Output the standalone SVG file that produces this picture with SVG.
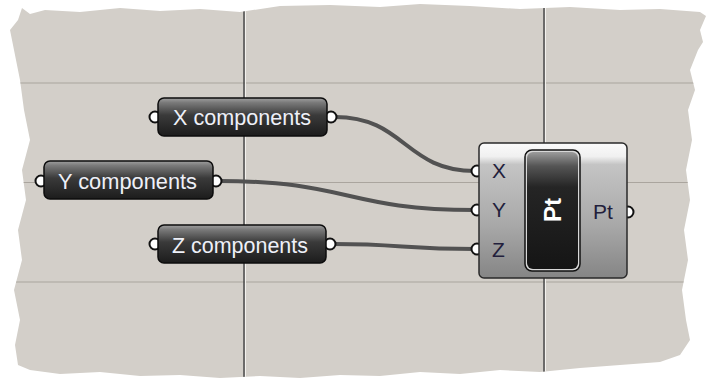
<svg xmlns="http://www.w3.org/2000/svg" width="710" height="385" viewBox="0 0 710 385">
<style>
.lbl{font-family:"Liberation Sans",Arial,sans-serif;font-size:22.5px;fill:#eef0f8}
.plbl{font-family:"Liberation Sans",Arial,sans-serif;font-size:21px;fill:#231f3c}
.wire{fill:none;stroke:#525252;stroke-width:4;stroke-linecap:round}
.grip{fill:#ffffff;stroke:#111;stroke-width:2}
.cap{fill:url(#capg);stroke:#0c0c0c;stroke-width:1.5}
.hgrid{stroke:#aaa59e;stroke-width:1.2}
.vgrid{stroke:#4a4a4a;stroke-width:1.5}
.vhl{stroke:#f4f2ee;stroke-width:1}
</style>
<defs>
<linearGradient id="capg" x1="0" y1="0" x2="0" y2="1">
<stop offset="0" stop-color="#a0a0a0"/>
<stop offset="0.12" stop-color="#7a7a7a"/>
<stop offset="0.45" stop-color="#3a3a3a"/>
<stop offset="1" stop-color="#1c1c1c"/>
</linearGradient>
<linearGradient id="boxg" x1="0" y1="0" x2="0" y2="1">
<stop offset="0" stop-color="#fbfbfb"/>
<stop offset="0.1" stop-color="#f0f0f0"/>
<stop offset="0.16" stop-color="#c4c4c4"/>
<stop offset="0.6" stop-color="#a9a9a9"/>
<stop offset="1" stop-color="#858585"/>
</linearGradient>
<linearGradient id="inng" x1="0" y1="0" x2="0" y2="1">
<stop offset="0" stop-color="#9c9c9c"/>
<stop offset="0.12" stop-color="#555"/>
<stop offset="0.3" stop-color="#252525"/>
<stop offset="1" stop-color="#151515"/>
</linearGradient>
<clipPath id="canvasclip">
<path id="cpath" d="M18,20 L22,8 L30,14 L45,10 L80,12 L120,8 L160,11 L200,9 L240,12 L280,6 L330,5 L380,7 L420,4 L470,6 L520,9 L570,7 L620,10 L660,9 L700,12 L706,16 L700,30 L703,42 L698,50 L690,70 L695,90 L688,110 L692,140 L686,170 L690,200 L684,230 L688,260 L682,290 L686,320 L690,340 L680,355 L660,362 L620,365 L580,368 L540,372 L500,370 L460,374 L420,372 L380,376 L340,375 L300,378 L260,376 L220,378 L180,375 L140,376 L100,372 L60,374 L30,370 L18,365 L15,345 L20,320 L14,290 L22,260 L18,230 L26,200 L22,170 L30,140 L24,110 L20,80 L14,50 L10,30 Z"/>
</clipPath>
</defs>
<rect width="710" height="385" fill="#ffffff"/>
<g id="canvas">
<use href="#cpath" fill="#d3cfc9"/>
<g clip-path="url(#canvasclip)">
<line class="hgrid" x1="0" y1="83" x2="710" y2="83"/>
<line class="hgrid" x1="0" y1="182.5" x2="710" y2="182.5"/>
<line class="hgrid" x1="0" y1="282" x2="710" y2="282"/>
<line class="vgrid" x1="244" y1="0" x2="244" y2="385"/>
<line class="vhl" x1="245.5" y1="0" x2="245.5" y2="385"/>
<line class="vgrid" x1="544" y1="0" x2="544" y2="385"/>
<line class="vhl" x1="545.5" y1="0" x2="545.5" y2="385"/>
</g>
</g>
<g id="connectors">
<path class="wire" d="M335,117 C405,117 405,171 475,171"/>
<path class="wire" d="M219,181 C350,181 345,210 475,210"/>
<path class="wire" d="M334,244 C400,244 405,249 475,249"/>
</g>
<g id="node-x">
<circle class="grip" cx="155" cy="117" r="5.5"/>
<circle class="grip" cx="331" cy="117" r="5.5"/>
<rect class="cap" x="158" y="98" width="169" height="38" rx="6"/>
<text class="lbl" x="173" y="125" textLength="138" lengthAdjust="spacingAndGlyphs">X components</text>
</g>
<g id="node-y">
<circle class="grip" cx="41" cy="181" r="5.5"/>
<circle class="grip" cx="216" cy="181" r="5.5"/>
<rect class="cap" x="44" y="161" width="169" height="38" rx="6"/>
<text class="lbl" x="58" y="188.5" textLength="139" lengthAdjust="spacingAndGlyphs">Y components</text>
</g>
<g id="node-z">
<circle class="grip" cx="155" cy="244" r="5.5"/>
<circle class="grip" cx="330" cy="244" r="5.5"/>
<rect class="cap" x="158" y="225" width="168" height="38" rx="6"/>
<text class="lbl" x="172" y="252.5" textLength="136" lengthAdjust="spacingAndGlyphs">Z components</text>
</g>
<g id="node-pt">
<circle class="grip" cx="477" cy="171" r="5.5"/>
<circle class="grip" cx="477" cy="210" r="5.5"/>
<circle class="grip" cx="477" cy="249" r="5.5"/>
<circle class="grip" cx="628" cy="212" r="5.5"/>
<rect x="479" y="143" width="148" height="135" rx="5" fill="url(#boxg)" stroke="#2a2a2a" stroke-width="1.5"/>
<rect x="525" y="150" width="55" height="121" rx="7" fill="#d8d8d8" stroke="#111" stroke-width="1.5"/>
<rect x="527" y="152" width="51" height="117" rx="6" fill="url(#inng)"/>
<text x="552" y="219" transform="rotate(-90 552 210)" font-family="'Liberation Sans',Arial,sans-serif" font-size="24" font-weight="bold" fill="#ffffff" text-anchor="middle">Pt</text>
<text class="plbl" x="492" y="178">X</text>
<text class="plbl" x="492" y="217">Y</text>
<text class="plbl" x="492" y="257">Z</text>
<text class="plbl" x="593" y="218.5">Pt</text>
</g>
</svg>
